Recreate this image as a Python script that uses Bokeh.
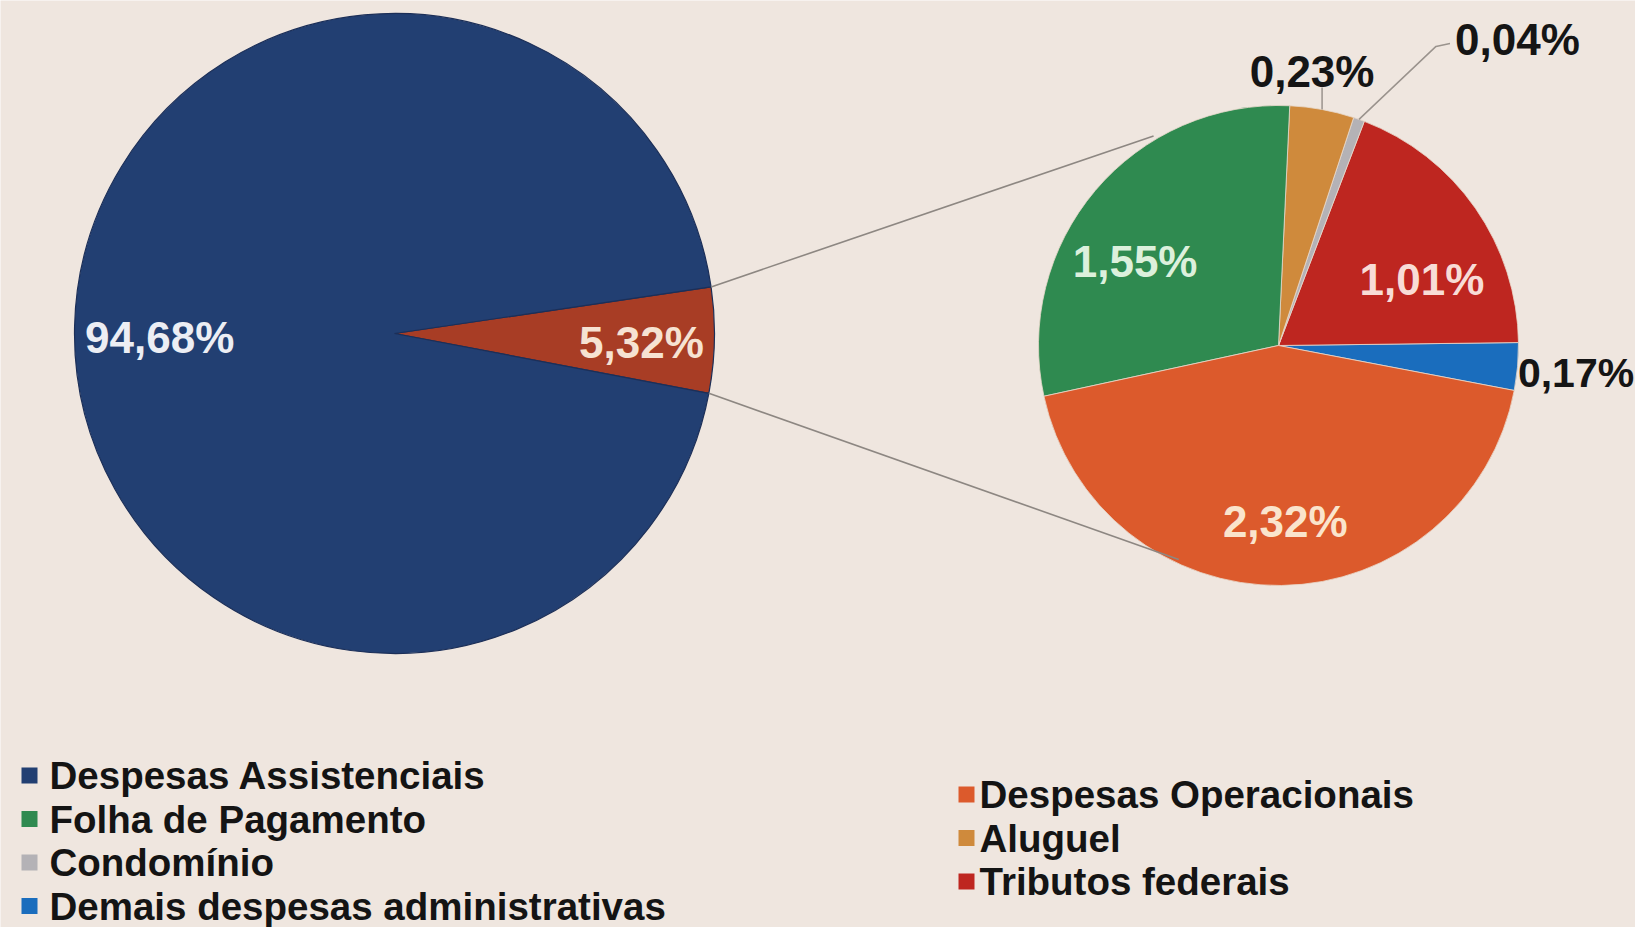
import math
from bokeh.plotting import figure
from bokeh.models import Range1d
from bokeh.core.properties import value
from bokeh.embed import file_html
from bokeh.resources import INLINE

# ---------------- data ----------------
main_categories = ["Despesas Assistenciais", "Demais despesas"]
main_values = [94.68, 5.32]

# secondary pie, drawn counter-clockwise starting with the blue slice
sub_categories = ["Demais despesas administrativas", "Tributos federais", "Condomínio",
                  "Aluguel", "Folha de Pagamento", "Despesas Operacionais"]
sub_values = [0.17, 1.01, 0.04, 0.23, 1.55, 2.32]

legend_col1 = ["Despesas Assistenciais", "Folha de Pagamento", "Condomínio",
               "Demais despesas administrativas"]
legend_col2 = ["Despesas Operacionais", "Aluguel", "Tributos federais"]

# ---------------- style ----------------
BG = "#efe6df"
COLORS = {
    "Despesas Assistenciais": "#223f72",
    "Demais despesas": "#a83d25",
    "Folha de Pagamento": "#2f8a50",
    "Condomínio": "#b4b2b6",
    "Demais despesas administrativas": "#1a6dbd",
    "Despesas Operacionais": "#dc5a2c",
    "Aluguel": "#cf8a3c",
    "Tributos federais": "#be2620",
}
LABEL_COLORS = {
    "Despesas Assistenciais": "#eceef4",
    "Demais despesas": "#f6e2d2",
    "Folha de Pagamento": "#dcf0dc",
    "Tributos federais": "#f8dcd6",
    "Despesas Operacionais": "#fae4cc",
}
FONT = value("Liberation Sans")
LABEL_SIZE = "44px"


def fmt(v):
    return f"{v:.2f}".replace(".", ",") + "%"


W, H = 1635, 927
p = figure(width=W, height=H, x_range=Range1d(0, W), y_range=Range1d(0, H),
           output_backend="svg", toolbar_location=None, min_border=0)
p.axis.visible = False
p.grid.visible = False
p.outline_line_color = None
p.background_fill_color = BG
p.border_fill_color = BG


# screen (top-left origin) -> data coordinates
def px(x):
    return x


def py(y):
    return H - y


# ---------------- main pie ----------------
LC = (px(394), py(333))
LR = 320
main_total = sum(main_values)
small_span = main_values[1] / main_total * 360.0
small_start = -1.2 - small_span / 2
order = [1, 0]
starts, ends, cols = [], [], []
a = small_start
for i in order:
    span = main_values[i] / main_total * 360.0
    starts.append(a)
    ends.append(a + span)
    cols.append(COLORS[main_categories[i]])
    a += span
p.wedge(x=LC[0], y=LC[1], radius=LR, start_angle=starts, end_angle=ends,
        start_angle_units="deg", end_angle_units="deg", direction="anticlock",
        fill_color=cols, line_color="#1c2f58", line_width=1.2)

# label placement (angle shift in degrees, radius factor)
main_label_pos = {"Despesas Assistenciais": (2.1, 0.734), "Demais despesas": (-0.9, 0.772)}
for k, i in enumerate(order):
    c = main_categories[i]
    sh, rf = main_label_pos[c]
    mid = math.radians((starts[k] + ends[k]) / 2 + sh)
    r = LR * rf
    p.text(x=[LC[0] + r * math.cos(mid)], y=[LC[1] + r * math.sin(mid)],
           text=[fmt(main_values[i])], text_align="center", text_baseline="middle",
           text_font=FONT, text_font_size=LABEL_SIZE, text_font_style="bold",
           text_color=LABEL_COLORS[c])

# ---------------- secondary pie ----------------
RC = (px(1278), py(345))
RR = 240
sub_total = sum(sub_values)
sub_start = -10.8
s_starts, s_ends, s_cols = [], [], []
a = sub_start
for v, c in zip(sub_values, sub_categories):
    span = v / sub_total * 360.0
    s_starts.append(a)
    s_ends.append(a + span)
    s_cols.append(COLORS[c])
    a += span
p.wedge(x=RC[0], y=RC[1], radius=RR, start_angle=s_starts, end_angle=ends if False else s_ends,
        start_angle_units="deg", end_angle_units="deg", direction="anticlock",
        fill_color=s_cols, line_color="#e9d9cc", line_width=0.8)

# connector lines between the pies
conn_targets = [(120.8, 244), (245.0, 236)]
small_end = small_start + small_span
for a_src, (a_dst, r_dst) in zip([small_end, small_start], conn_targets):
    x0 = LC[0] + LR * math.cos(math.radians(a_src))
    y0 = LC[1] + LR * math.sin(math.radians(a_src))
    x1 = RC[0] + r_dst * math.cos(math.radians(a_dst))
    y1 = RC[1] + r_dst * math.sin(math.radians(a_dst))
    p.line([x0, x1], [y0, y1], line_color="#8d8782", line_width=1.6)

# labels of secondary pie
inside_pos = {"Tributos federais": (-10.2, 0.658), "Folha de Pagamento": (9.8, 0.693),
              "Despesas Operacionais": (1.5, 0.735)}
for k, (v, c) in enumerate(zip(sub_values, sub_categories)):
    mid = (s_starts[k] + s_ends[k]) / 2
    if c in inside_pos:
        sh, rf = inside_pos[c]
        ang = math.radians(mid + sh)
        r = RR * rf
        p.text(x=[RC[0] + r * math.cos(ang)], y=[RC[1] + r * math.sin(ang)],
               text=[fmt(v)], text_align="center", text_baseline="middle",
               text_font=FONT, text_font_size=LABEL_SIZE, text_font_style="bold",
               text_color=LABEL_COLORS[c])
    elif c == "Demais despesas administrativas":
        ang = math.radians(mid - 1.5)
        r = RR + 1
        p.text(x=[RC[0] + r * math.cos(ang)], y=[RC[1] + r * math.sin(ang)],
               text=[fmt(v)], text_align="left", text_baseline="middle",
               text_font=FONT, text_font_size="41px", text_font_style="bold",
               text_color="#151515")
    elif c == "Aluguel":
        ang = math.radians(mid)
        x0 = RC[0] + RR * math.cos(ang)
        y0 = RC[1] + RR * math.sin(ang)
        p.line([x0, x0], [y0, y0 + 22], line_color="#9a938d", line_width=1.5)
        p.text(x=[x0 - 10], y=[y0 + 38], text=[fmt(v)], text_align="center",
               text_baseline="middle", text_font=FONT, text_font_size=LABEL_SIZE,
               text_font_style="bold", text_color="#151515")
    elif c == "Condomínio":
        ang = math.radians(mid)
        x0 = RC[0] + RR * math.cos(ang)
        y0 = RC[1] + RR * math.sin(ang)
        xe, ye = x0 + 77, y0 + 73
        p.line([x0, xe, xe + 14], [y0, ye, ye + 3], line_color="#9a938d", line_width=1.5)
        p.text(x=[xe + 19], y=[ye + 7], text=[fmt(v)], text_align="left",
               text_baseline="middle", text_font=FONT, text_font_size=LABEL_SIZE,
               text_font_style="bold", text_color="#151515")

# ---------------- legend ----------------
ROW = 43.5
for col, (sq_x, tx_x, y0) in zip([legend_col1, legend_col2],
                                 [(px(29), px(49), py(775)), (px(966), px(979), py(794))]):
    ys = [y0 - ROW * i for i in range(len(col))]
    p.scatter(x=[sq_x] * len(col), y=ys, marker="square", size=16,
              fill_color=[COLORS[c] for c in col], line_color=None)
    p.text(x=[tx_x] * len(col), y=ys, text=col, text_align="left", text_baseline="middle",
           text_font=FONT, text_font_size="38.5px", text_font_style="bold",
           text_color="#141414")

open("out.html", "w").write(file_html(p, INLINE))
